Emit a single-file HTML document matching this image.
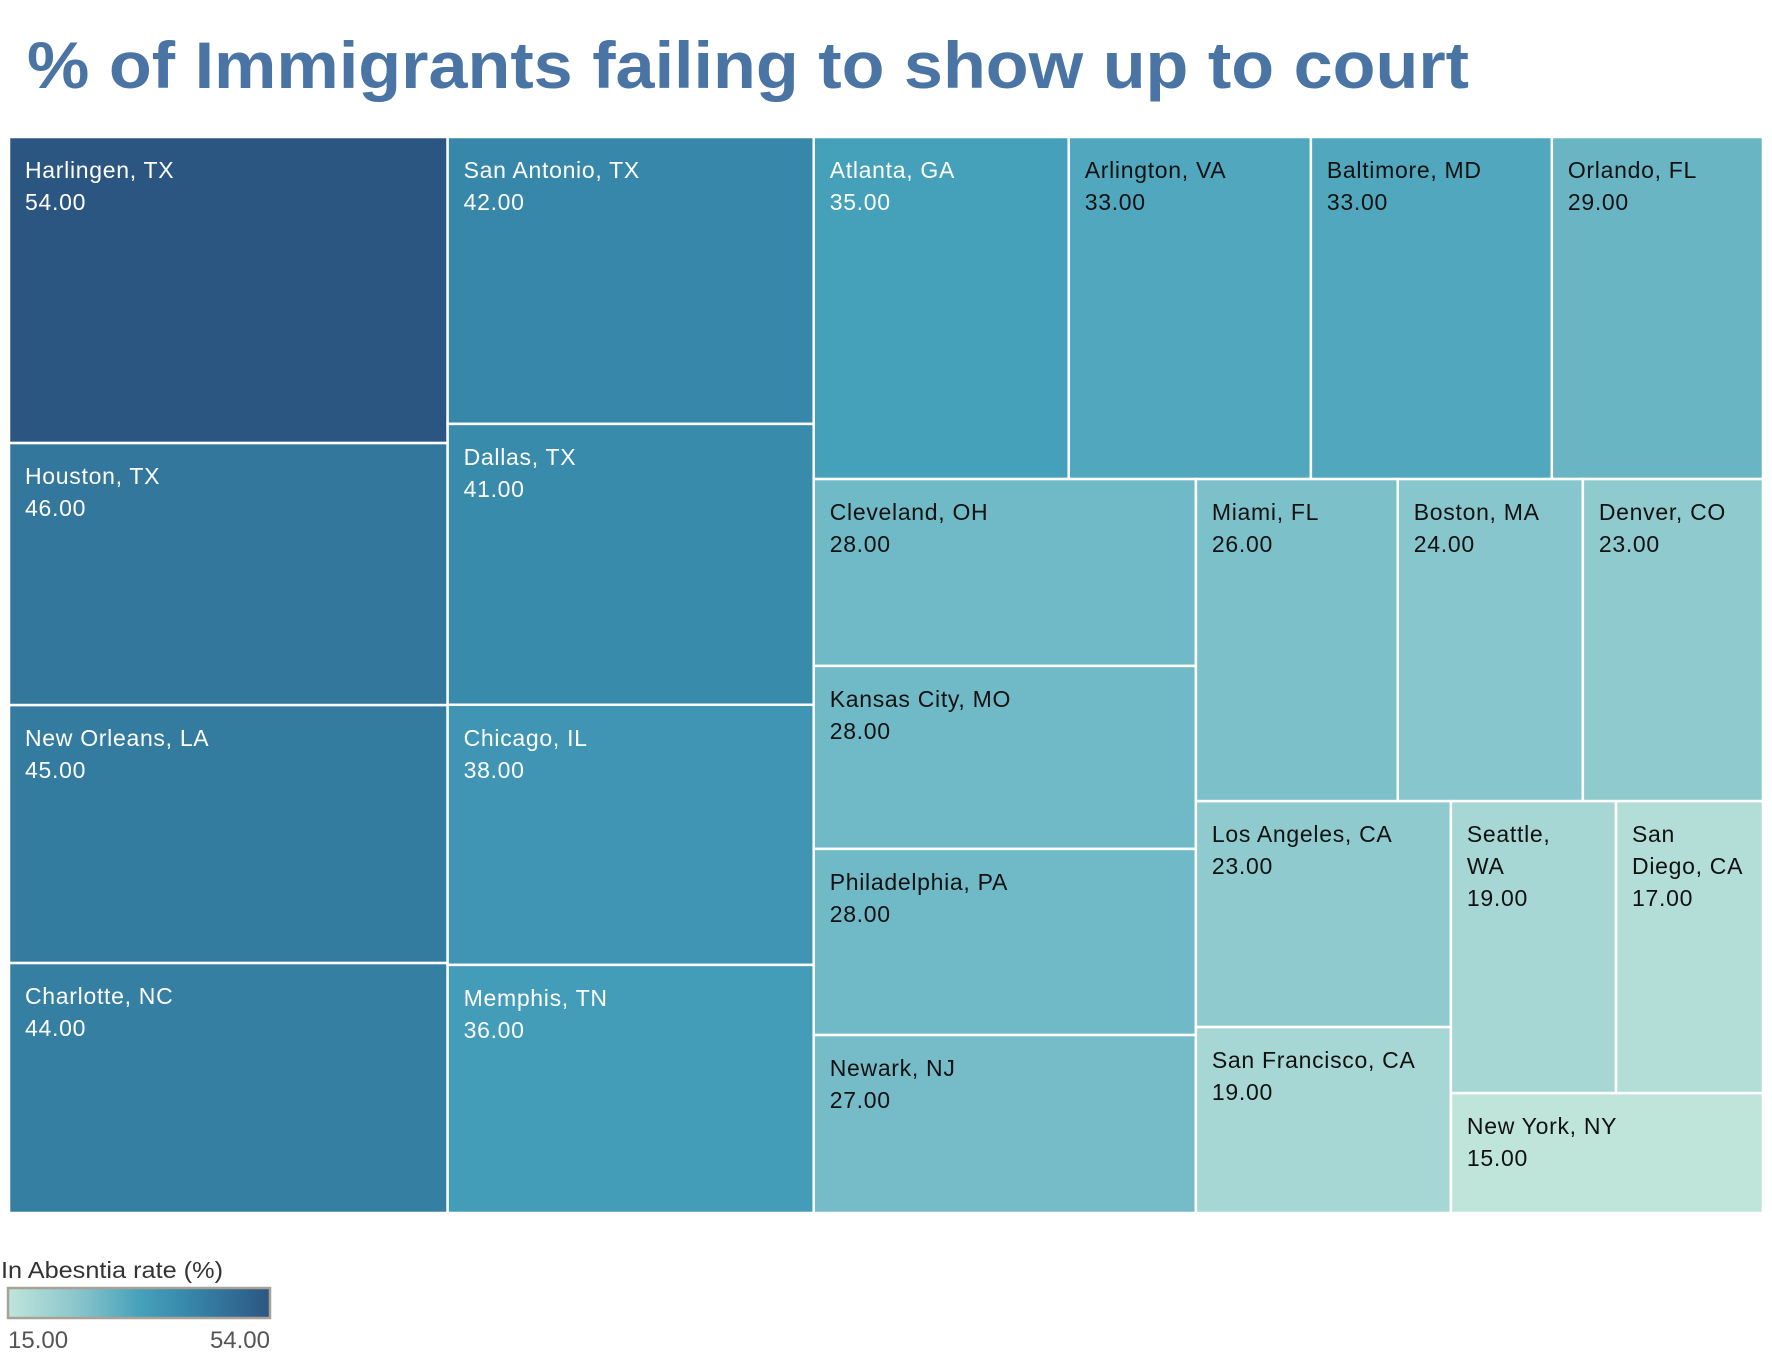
<!DOCTYPE html>
<html><head><meta charset="utf-8"><style>
html,body{margin:0;padding:0;background:#fff;}
svg{display:block;font-family:"Liberation Sans",sans-serif;}
</style></head><body>
<svg id="chart" width="1772" height="1358">
<text x="27" y="88" font-size="66" font-weight="bold" fill="#4a74a3" textLength="1442" lengthAdjust="spacingAndGlyphs">% of Immigrants failing to show up to court</text>
<g id="cells"></g>
<g>
<defs><linearGradient id="grad" x1="0" x2="1" y1="0" y2="0">
<stop offset="0" stop-color="#bfe5da"/><stop offset="0.26" stop-color="#8bc6cc"/><stop offset="0.51" stop-color="#45a0ba"/><stop offset="0.69" stop-color="#3787aa"/><stop offset="1" stop-color="#2c5682"/></linearGradient></defs>
<text x="1" y="1278" font-size="23" fill="#333" textLength="222" lengthAdjust="spacingAndGlyphs">In Abesntia rate (%)</text>
<rect x="8" y="1288" width="262" height="30" fill="url(#grad)" stroke="#a8a296" stroke-width="2.5"/>
<text x="8" y="1348" font-size="24" fill="#555">15.00</text>
<text x="270" y="1348" font-size="24" fill="#555" text-anchor="end">54.00</text>
</g>
</svg>
<script>
const cities = ["Harlingen, TX","Houston, TX","New Orleans, LA","Charlotte, NC","San Antonio, TX","Dallas, TX","Chicago, IL","Memphis, TN","Atlanta, GA","Arlington, VA","Baltimore, MD","Orlando, FL","Cleveland, OH","Kansas City, MO","Philadelphia, PA","Newark, NJ","Miami, FL","Boston, MA","Denver, CO","Los Angeles, CA","San Francisco, CA","Seattle, WA","San Diego, CA","New York, NY"];
const rates = [54,46,45,44,42,41,38,36,35,33,33,29,28,28,28,27,26,24,23,23,19,19,17,15];
const sizes = [134.2,114.9,113.1,109.6,105.0,102.8,95.2,90.8,87.2,82.8,82.4,72.2,71.4,69.9,71.1,68.0,65.0,59.6,58.0,57.6,47.4,48.2,42.9,37.4];
// layout tree: "h" splits horizontally (side by side), "v" stacks vertically; numbers index the data arrays
const tree = ["h",[["v",[0,1,2,3]],["v",[4,5,6,7]],["v",[["h",[8,9,10,11]],["h",[["v",[12,13,14,15]],["v",[["h",[16,17,18]],["h",[["v",[19,20]],["v",[["h",[21,22]],23]]]]]]]]]]]];
const stops=[[15,[191,229,218]],[25,[130,195,203]],[35,[69,160,186]],[42,[55,135,170]],[54,[44,86,130]]];
function color(v){for(let i=0;i<stops.length-1;i++){const a=stops[i],b=stops[i+1];if(v<=b[0]){const t=(v-a[0])/(b[0]-a[0]);return "rgb("+a[1].map((c,k)=>Math.round(c+(b[1][k]-c)*t)).join(",")+")";}}return "rgb(44,86,130)";}
function weight(n){return typeof n==="number"?sizes[n]:n[1].reduce((s,c)=>s+weight(c),0);}
const NS="http://www.w3.org/2000/svg";
const g=document.getElementById("cells");
function layout(n,x,y,w,h){
 if(typeof n==="number"){draw(n,x,y,w,h);return;}
 const tot=weight(n);let off=0;
 n[1].forEach(c=>{const f=weight(c)/tot;
  if(n[0]==="h"){layout(c,x+off,y,w*f,h);off+=w*f;}else{layout(c,x,y+off,w,h*f);off+=h*f;}});
}
function draw(i,x,y,w,h){
 const r=document.createElementNS(NS,"rect");
 r.setAttribute("x",x);r.setAttribute("y",y);r.setAttribute("width",w);r.setAttribute("height",h);
 r.setAttribute("fill",color(rates[i]));r.setAttribute("stroke","#fff");r.setAttribute("stroke-width","2.5");
 
 
 g.appendChild(r);
 const t=document.createElementNS(NS,"text");
 t.setAttribute("font-size","23");t.setAttribute("letter-spacing","0.7");t.setAttribute("fill",rates[i]>=35?"#fff":"#111");
 
 
 const lines=[];const words=cities[i].split(" ");let cur="";
 words.forEach(wd=>{const cand=cur?cur+" "+wd:wd;if(cand.length*13.5>w-20&&cur){lines.push(cur);cur=wd;}else cur=cand;});
 lines.push(cur);lines.push(rates[i].toFixed(2));
 lines.forEach((l,k)=>{const s=document.createElementNS(NS,"tspan");s.setAttribute("x",x+16);s.setAttribute("y",y+41+k*32);s.textContent=l;t.appendChild(s);});
 g.appendChild(t);
}
layout(tree,9,137,1754,1076);
</script>
</body></html>
